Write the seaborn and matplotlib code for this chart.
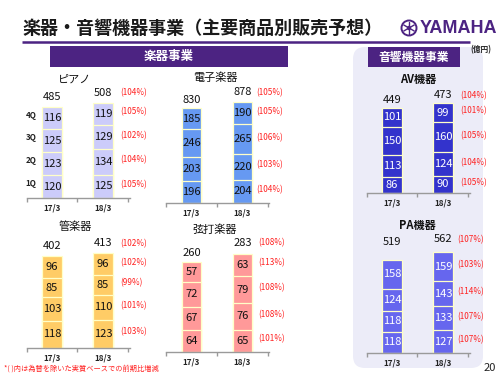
import matplotlib
matplotlib.use('Agg')
import matplotlib.pyplot as plt
import seaborn as sns
import pandas as pd
import numpy as np
from matplotlib.patches import Rectangle, FancyBboxPatch, Circle

sns.set_theme(style='white')
plt.rcParams['font.family'] = ['Noto Sans CJK JP', 'DejaVu Sans']

# ---------------- data ----------------
periods = ['17/3', '18/3']
quarters = ['1Q', '2Q', '3Q', '4Q']

piano_17 = [120, 123, 125, 116]
piano_18 = [125, 134, 129, 119]
piano_total = [485, 508]
piano_pct = ['(105%)', '(104%)', '(102%)', '(105%)']
piano_total_pct = '(104%)'

elec_17 = [196, 203, 246, 185]
elec_18 = [204, 220, 265, 190]
elec_total = [830, 878]
elec_pct = ['(104%)', '(103%)', '(106%)', '(105%)']
elec_total_pct = '(105%)'

wind_17 = [118, 103, 85, 96]
wind_18 = [123, 110, 85, 96]
wind_total = [402, 413]
wind_pct = ['(103%)', '(101%)', '(99%)', '(102%)']
wind_total_pct = '(102%)'

string_17 = [64, 67, 72, 57]
string_18 = [65, 76, 79, 63]
string_total = [260, 283]
string_pct = ['(101%)', '(108%)', '(108%)', '(113%)']
string_total_pct = '(108%)'

av_17 = [86, 113, 150, 101]
av_18 = [90, 124, 160, 99]
av_total = [449, 473]
av_pct = ['(105%)', '(104%)', '(105%)', '(101%)']
av_total_pct = '(104%)'

pa_17 = [118, 118, 124, 158]
pa_18 = [127, 133, 143, 159]
pa_total = [519, 562]
pa_pct = ['(107%)', '(107%)', '(114%)', '(103%)']
pa_total_pct = '(107%)'

titles = ['ピアノ', '電子楽器', '管楽器', '弦打楽器', 'AV機器', 'PA機器']

# ---------------- figure ----------------
W, H = 500, 375
fig = plt.figure(figsize=(5, 3.75), dpi=100)
fig.patch.set_facecolor('white')

PURPLE = '#4C2382'
RED = '#FF2020'

ax0 = fig.add_axes([0, 0, 1, 1], zorder=0)
ax0.set_xlim(0, W)
ax0.set_ylim(H, 0)
ax0.axis('off')

# right panel background
ax0.add_patch(FancyBboxPatch((353, 47), 130, 321,
                             boxstyle='round,pad=0,rounding_size=12',
                             fc='#ECECF8', ec='none'))

# title and rule
ax0.text(22, 28, '楽器・音響機器事業（主要商品別販売予想）', fontsize=13,
         fontweight='bold', va='center', ha='left', color='#1a1a1a')
ax0.plot([22, 470], [42, 42], color=PURPLE, lw=1.8, solid_capstyle='butt')

# logo
ax0.add_patch(Circle((409, 28), 7.5, fc='none', ec=PURPLE, lw=1.4))
for ang in (90, 210, 330):
    a = np.deg2rad(ang)
    ax0.plot([409 - 6 * np.cos(a), 409 + 6 * np.cos(a)],
             [28 - 6 * np.sin(a), 28 + 6 * np.sin(a)], color=PURPLE, lw=1.0)
ax0.add_patch(Circle((409, 28), 2.2, fc=PURPLE, ec='none'))
ax0.text(420, 28.5, 'YAMAHA', fontsize=13, fontweight='bold', color=PURPLE,
         va='center', ha='left', family=['Liberation Sans Narrow', 'Liberation Sans', 'DejaVu Sans'])

# banners
ax0.add_patch(Rectangle((50, 46), 238, 21, fc=PURPLE, ec='none'))
ax0.text(169, 56.5, '楽器事業', fontsize=9, fontweight='bold', color='white',
         ha='center', va='center')
ax0.add_patch(Rectangle((368, 47), 92, 20, fc=PURPLE, ec='none'))
ax0.text(414, 57, '音響機器事業', fontsize=8.5, fontweight='bold', color='white',
         ha='center', va='center')
ax0.text(481, 50, '(億円)', fontsize=5.5, fontweight='bold', color='#222222',
         ha='center', va='center')

# subtitles
sub_pos = [(75, 80, 'normal'), (215, 78, 'normal'), (75, 227, 'normal'),
           (215, 230, 'normal'), (418, 80, 'bold'), (417, 225, 'bold')]
for t, (x, y, w) in zip(titles, sub_pos):
    ax0.text(x, y, t, fontsize=8, fontweight=w, ha='center', va='center', color='#111111')

# footnote / page
ax0.text(4, 369, '*( )内は為替を除いた実質ベースでの前期比増減', fontsize=5.2,
         color=RED, ha='left', va='center')
ax0.text(490, 368, '20', fontsize=8, color='#222222', ha='center', va='center')


def draw_chart(left, base, ymax, seg17, seg18, totals, pcts, tpct, color,
               tcolor, tot_off=(9, 9), qlabels=False, pct_x=1.3):
    AH = 130
    ax = fig.add_axes([left / W, 1 - base / H, 103 / W, AH / H], zorder=1)
    ax.patch.set_alpha(0)
    df = pd.DataFrame({'period': np.repeat(periods, 4),
                       'quarter': quarters * 2,
                       'value': seg17 + seg18})
    df['cum'] = df.groupby('period')['value'].cumsum()
    for q in reversed(quarters):
        sub = df[df.quarter == q]
        sns.barplot(data=sub, x='period', y='cum', order=periods, color=color,
                    saturation=1, width=0.39, edgecolor='#FFFFC8', linewidth=0.9,
                    errorbar=None, ax=ax)
    ax.set_xlim(-0.5, 1.52)
    ax.set_ylim(0, ymax)
    for s in ('top', 'left', 'right'):
        ax.spines[s].set_visible(False)
    ax.spines['bottom'].set_color('#9a9a9a')
    ax.spines['bottom'].set_linewidth(1)
    ax.set_xticks([-0.5, 0.5, 1.5])
    ax.set_xticklabels(['', '', ''])
    ax.set_yticks([])
    ax.tick_params(axis='x', bottom=True, length=3, color='#9a9a9a', width=1, direction='out')
    ax.set_xlabel('')
    ax.set_ylabel('')

    for i, p in enumerate(periods):
        sub = df[df.period == p]
        for v, c in zip(sub['value'], sub['cum']):
            ax.text(i, c - v / 2, str(v), ha='center', va='center', fontsize=8,
                    color=tcolor)
        top = sub['cum'].iloc[-1]
        ax.annotate(str(totals[i]), (i, top), xytext=(0, tot_off[i]),
                    textcoords='offset pixels', ha='center', va='center',
                    fontsize=8, color='#111111')
        ax.annotate(p, (i, 0), xytext=(0, -10), textcoords='offset pixels',
                    ha='center', va='center', fontsize=5.8, fontweight='bold',
                    color='#222222', annotation_clip=False)
        if i == 1:
            for v, c, pc in zip(sub['value'], sub['cum'], pcts):
                ax.annotate(pc, (pct_x, c - v / 2), xytext=(0, 2),
                            textcoords='offset pixels', ha='left', va='center',
                            fontsize=5.9, color=RED, annotation_clip=False)
            ax.annotate(tpct, (pct_x, top), xytext=(0, tot_off[i]),
                        textcoords='offset pixels', ha='left', va='center',
                        fontsize=5.9, color=RED, annotation_clip=False)
        if qlabels and i == 0:
            for v, c, q in zip(sub['value'], sub['cum'], quarters):
                ax.annotate(q, (-0.41, c - v / 2), xytext=(0, 3),
                            textcoords='offset pixels', ha='center', va='center',
                            fontsize=5.8, fontweight='bold', color='#222222',
                            annotation_clip=False)
    return ax


draw_chart(26.5, 198, 130 / 0.1876, piano_17, piano_18, piano_total, piano_pct,
           piano_total_pct, '#CCCCFA', '#111111', tot_off=(10, 10), qlabels=True, pct_x=1.33)
draw_chart(166, 203, 130 / 0.1145, elec_17, elec_18, elec_total, elec_pct,
           elec_total_pct, '#6699F2', '#111111', tot_off=(8, 10), pct_x=1.27)
draw_chart(26.5, 348, 130 / 0.2289, wind_17, wind_18, wind_total, wind_pct,
           wind_total_pct, '#FFCC66', '#111111', tot_off=(10, 10), pct_x=1.33)
draw_chart(166, 352, 130 / 0.346, string_17, string_18, string_total, string_pct,
           string_total_pct, '#FF9999', '#111111', tot_off=(9, 11), pct_x=1.31)
draw_chart(366.5, 193, 130 / 0.1893, av_17, av_18, av_total, av_pct,
           av_total_pct, '#3333CC', 'white', tot_off=(8, 8), pct_x=1.33)
draw_chart(366.5, 353, 130 / 0.179, pa_17, pa_18, pa_total, pa_pct,
           pa_total_pct, '#6666EE', 'white', tot_off=(18, 13), pct_x=1.27)

fig.savefig('out.png', dpi=100)
